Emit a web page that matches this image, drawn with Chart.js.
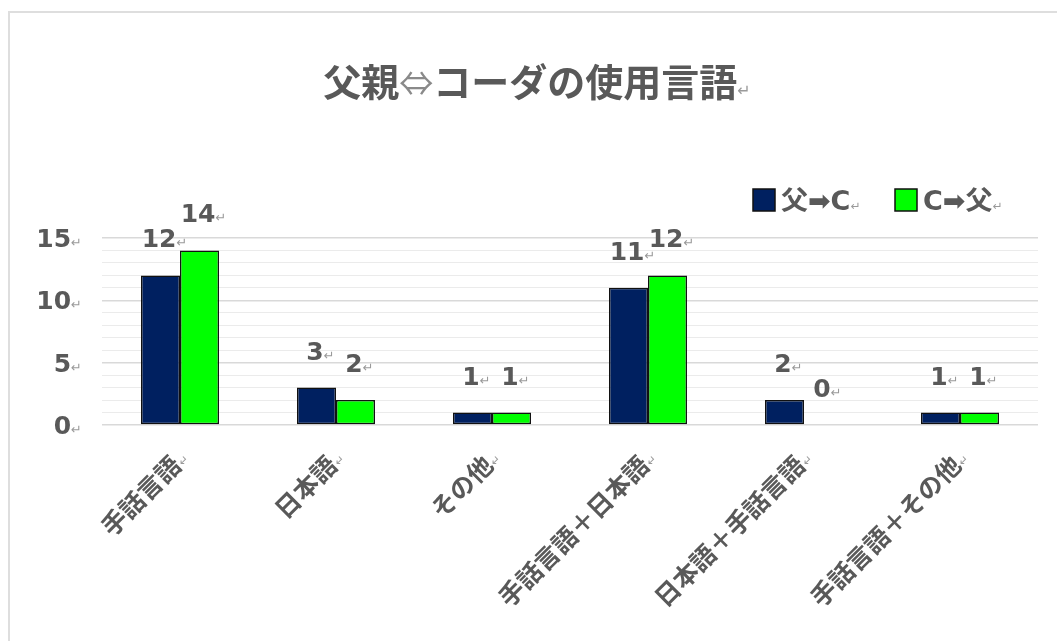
<!DOCTYPE html>
<html lang="ja">
<head>
<meta charset="utf-8">
<title>父親⇔コーダの使用言語</title>
<script src="https://cdn.jsdelivr.net/npm/chart.js@4.4.1/dist/chart.umd.min.js"></script>
<style>
  html, body { margin: 0; padding: 0; background: #ffffff; }
  canvas { display: block; }
</style>
</head>
<body>
<canvas id="langChart" width="1057" height="641"></canvas>
<script>
// ---- data ----
const categories = ['手話言語', '日本語', 'その他', '手話言語＋日本語', '日本語＋手話言語', '手話言語＋その他'];
const fatherToCoda = [12, 3, 1, 11, 2, 1];
const codaToFather = [14, 2, 1, 12, 0, 1];
const seriesNames = ['父➡C', 'C➡父'];
const yTicks = [0, 5, 10, 15];

const COLORS = {
  navy: '#002060',
  green: '#00ff00',
  barEdge: '#111111',
  text: '#595959',
  mark: '#9a9a9a',
  gridMajor: '#d9d9d9',
  gridMinor: '#ebebeb',
  frame: '#dedede',
};

const FONT_LATIN = '"DejaVu Sans", "Noto Sans CJK JP", sans-serif';
const FONT_CJK = '"Noto Sans CJK JP", "DejaVu Sans", sans-serif';
const RETURN_MARK = '↵';

// draws a row of text pieces (each with its own font/colour) on one baseline
function drawRuns(ctx, runs, x, y, align) {
  let total = 0;
  runs.forEach(r => { ctx.font = r.font; r.w = ctx.measureText(r.text).width; total += r.w; });
  let cx = align === 'right' ? x - total : align === 'center' ? x - total / 2 : x;
  ctx.textAlign = 'left';
  ctx.textBaseline = 'alphabetic';
  runs.forEach(r => {
    ctx.font = r.font;
    ctx.fillStyle = r.color;
    ctx.fillText(r.text, cx, y);
    cx += r.w;
  });
}

function markRun(size) {
  return { text: RETURN_MARK, font: `${size}px ${FONT_LATIN}`, color: COLORS.mark };
}

const wordPlugin = {
  id: 'wordStyle',
  beforeDraw(chart) {
    const ctx = chart.ctx;
    ctx.save();
    ctx.fillStyle = '#ffffff';
    ctx.fillRect(0, 0, chart.width, chart.height);
    ctx.strokeStyle = COLORS.frame;
    ctx.lineWidth = 2;
    ctx.strokeRect(9, 12, chart.width + 20, chart.height + 20);
    ctx.restore();
  },
  afterDatasetsDraw(chart) {
    const ctx = chart.ctx;
    ctx.save();
    // value labels above each bar
    chart.data.datasets.forEach((ds, di) => {
      const meta = chart.getDatasetMeta(di);
      meta.data.forEach((bar, i) => {
        drawRuns(ctx, [
          { text: String(ds.data[i]), font: `bold 25px ${FONT_LATIN}`, color: COLORS.text },
          markRun(13),
        ], bar.x + 4, bar.y - 28, 'center');
      });
    });
    ctx.restore();
  },
  afterDraw(chart) {
    const ctx = chart.ctx;
    const xs = chart.scales.x;
    const ys = chart.scales.y;
    ctx.save();

    // title
    drawRuns(ctx, [
      { text: '父親', font: `bold 38px ${FONT_CJK}`, color: COLORS.text },
      { text: '⇔', font: `34px ${FONT_CJK}`, color: '#8a8a8a' },
      { text: 'コーダの使用言語', font: `bold 38px ${FONT_CJK}`, color: COLORS.text },
      markRun(16),
    ], 537, 96, 'center');

    // y tick labels
    yTicks.forEach(v => {
      drawRuns(ctx, [
        { text: String(v), font: `bold 25px ${FONT_LATIN}`, color: COLORS.text },
        markRun(13),
      ], 82, ys.getPixelForValue(v) + 9, 'right');
    });

    // rotated category labels
    categories.forEach((label, i) => {
      const x = xs.getPixelForValue(i);
      ctx.save();
      ctx.translate(x + 10, ys.bottom + 35);
      ctx.rotate(-Math.PI / 4);
      drawRuns(ctx, [
        { text: label, font: `bold 25px ${FONT_CJK}`, color: COLORS.text },
        markRun(12),
      ], 0, 0, 'right');
      ctx.restore();
    });

    // legend
    const legendY = 200;
    let lx = 753;
    chart.data.datasets.forEach((ds, di) => {
      ctx.fillStyle = ds.backgroundColor;
      ctx.fillRect(lx, legendY - 11, 22, 22);
      ctx.strokeStyle = COLORS.barEdge;
      ctx.lineWidth = 1.5;
      ctx.strokeRect(lx, legendY - 11, 22, 22);
      drawRuns(ctx, [
        { text: seriesNames[di], font: `bold 27px ${FONT_LATIN}`, color: COLORS.text },
        markRun(12),
      ], lx + 28, legendY + 10, 'left');
      lx += 142;
    });

    ctx.restore();
  },
};

new Chart(document.getElementById('langChart'), {
  type: 'bar',
  data: {
    labels: categories,
    datasets: [
      {
        label: seriesNames[0],
        data: fatherToCoda,
        backgroundColor: COLORS.navy,
        borderColor: COLORS.barEdge,
        borderWidth: 1.5,
        borderSkipped: false,
      },
      {
        label: seriesNames[1],
        data: codaToFather,
        backgroundColor: COLORS.green,
        borderColor: COLORS.barEdge,
        borderWidth: 1.5,
        borderSkipped: false,
      },
    ],
  },
  options: {
    responsive: false,
    animation: false,
    layout: { padding: { left: 102, right: 19, top: 238, bottom: 216 } },
    datasets: { bar: { categoryPercentage: 0.5, barPercentage: 1.0 } },
    plugins: {
      legend: { display: false },
      title: { display: false },
      tooltip: { enabled: false },
    },
    scales: {
      x: {
        grid: { display: false },
        border: { display: false },
        ticks: { display: false },
        afterFit(scale) { scale.height = 0; },
      },
      y: {
        min: 0,
        max: 15,
        ticks: { display: false, stepSize: 1 },
        border: { display: false },
        grid: {
          drawTicks: false,
          color: c => (c.tick.value % 5 === 0 ? COLORS.gridMajor : COLORS.gridMinor),
          lineWidth: c => (c.tick.value % 5 === 0 ? 1.5 : 1),
        },
        afterFit(scale) { scale.width = 0; },
      },
    },
  },
  plugins: [wordPlugin],
});
</script>
</body>
</html>
